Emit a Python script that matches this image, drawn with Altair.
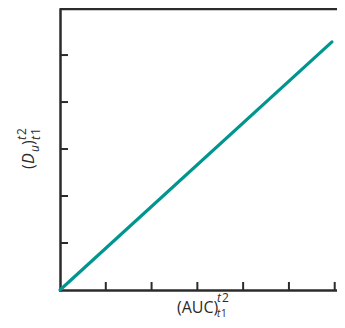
import altair as alt
import pandas as pd

# data
auc = [0.0, 5.94]
du = [0.0, 5.28]
x_ticks = [1, 2, 3, 4, 5, 6]
y_ticks = [1, 2, 3, 4, 5]

W, H = 277, 281
AX = "#2b2b2b"
TEAL = "#00968F"
FONT = "Open Sans"

line_df = pd.DataFrame({"auc": auc, "du": du})
xs = alt.Scale(domain=[0, 6.05], nice=False, zero=False)
ys = alt.Scale(domain=[0, 5.98], nice=False, zero=False)

axis_x = alt.Axis(labels=False, ticks=False, grid=False, title=None, domain=True,
                  domainColor=AX, domainWidth=2.5, domainCap="square")
axis_y = alt.Axis(labels=False, ticks=False, grid=False, title=None, domain=True,
                  domainColor=AX, domainWidth=2.5, domainCap="square")

line = alt.Chart(line_df).mark_line(color=TEAL, strokeWidth=3.2, strokeCap="round").encode(
    x=alt.X("auc:Q", scale=xs, axis=axis_x),
    y=alt.Y("du:Q", scale=ys, axis=axis_y),
)

xt = alt.Chart(pd.DataFrame({"v": x_ticks})).mark_rule(color=AX, strokeWidth=2).encode(
    x=alt.X("v:Q", scale=xs),
    y=alt.value(H - 8), y2=alt.value(H),
)
yt = alt.Chart(pd.DataFrame({"v": y_ticks})).mark_rule(color=AX, strokeWidth=2).encode(
    y=alt.Y("v:Q", scale=ys),
    x=alt.value(0), x2=alt.value(8),
)
top = alt.Chart(pd.DataFrame({"a": [0]})).mark_rule(color=AX, strokeWidth=2.5).encode(
    x=alt.value(0), x2=alt.value(W), y=alt.value(0),
)

def txt(s, px, py, size=14, italic=False, angle=0):
    kw = dict(text=s, font=FONT, fontSize=size, color=AX, align="left", baseline="alphabetic")
    if italic:
        kw["fontStyle"] = "italic"
    if angle:
        kw["angle"] = angle
    return alt.Chart(pd.DataFrame({"a": [0]})).mark_text(**kw).encode(
        x=alt.value(px - 60), y=alt.value(py - 9)
    )

BX, BY = 177, 313
titles = [
    txt("(AUC)", BX, BY, 16),
    txt("t", BX + 40, BY - 11, 12, italic=True),
    txt("2", BX + 45, BY - 11, 12),
    txt("t", BX + 40, BY + 4, 10, italic=True),
    txt("1", BX + 44, BY + 4, 10),
    txt("(", 34, 169, 16, angle=270),
    txt("D", 34, 164, 16, italic=True, angle=270),
    txt("u", 39, 152, 12, italic=True, angle=270),
    txt(")", 34, 145, 16, angle=270),
    txt("t", 26, 140, 12, italic=True, angle=270),
    txt("2", 26, 135, 12, angle=270),
    txt("t", 40, 140, 12, italic=True, angle=270),
    txt("1", 40, 135, 12, angle=270),
]

chart = alt.layer(line, xt, yt, top, *titles).properties(
    width=W, height=H,
    padding={"left": 52, "top": 1, "right": 0, "bottom": 30},
    autosize=alt.AutoSizeParams(type="none"),
).configure_view(stroke=None)

chart.save("out.html", embed_options={"renderer": "svg", "actions": False})
